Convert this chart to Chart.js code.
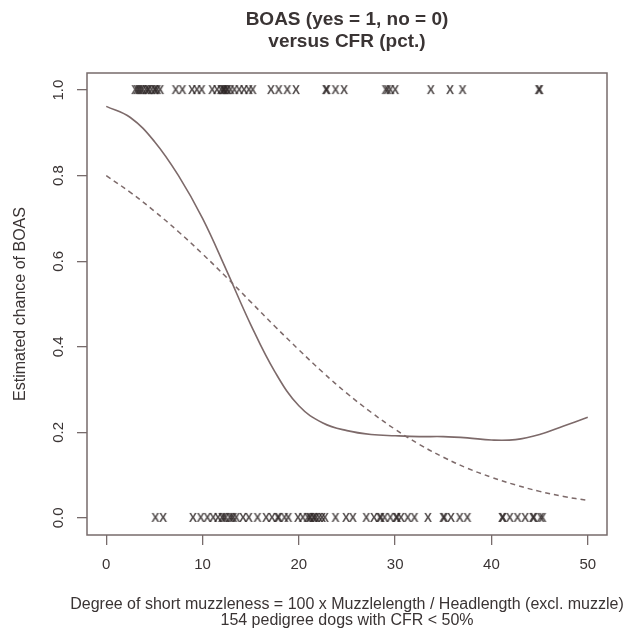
<!DOCTYPE html>
<html>
<head>
<meta charset="utf-8">
<script src="https://cdn.jsdelivr.net/npm/chart.js@4"></script>
<style>
  body { margin: 0; background: #fff; }
  canvas { display: block; }
</style>
</head>
<body>
<canvas id="boasChart" width="625" height="630"></canvas>
<script>
// fitted curves, every 2.5 pct CFR
const curveX = [0, 2.5, 5, 7.5, 10, 12.5, 15, 17.5, 20, 22.5, 25, 27.5, 30, 32.5, 35, 37.5, 40, 42.5, 45, 47.5, 50];
const smoothY = [0.962, 0.936, 0.88, 0.80, 0.70, 0.578, 0.452, 0.342, 0.262, 0.222, 0.204, 0.195, 0.192, 0.19, 0.19, 0.187, 0.182, 0.183, 0.195, 0.215, 0.235];
const logisticY = [0.80, 0.761, 0.717, 0.669, 0.617, 0.562, 0.505, 0.448, 0.393, 0.340, 0.291, 0.247, 0.207, 0.172, 0.142, 0.116, 0.095, 0.077, 0.062, 0.050, 0.041];

// dogs, by CFR: BOAS yes (plotted at 1) and no (plotted at 0)
const boasYes = [3.0, 3.2, 3.4, 3.6, 3.8, 4.1, 4.3, 4.4, 4.7, 5.0, 5.1, 5.3, 5.6, 7.2, 7.9, 8.9, 9.4, 9.9,
  11.0, 11.5, 11.9, 12.1, 12.2, 12.3, 12.5, 12.6, 12.9, 13.3, 13.8, 14.3, 14.8, 15.2,
  17.1, 17.9, 18.8, 19.7, 22.8, 22.9, 23.8, 24.7, 29.0, 29.2, 29.5, 30.0, 33.7, 35.7, 37.0, 44.9, 45.0];
const boasNo = [5.1, 5.9, 9.0, 9.8, 10.5, 11.1, 11.6, 12.0, 12.2, 12.4, 12.8, 13.0, 13.2, 13.5, 14.2, 14.8, 15.7,
  16.6, 17.2, 17.8, 17.9, 18.5, 18.9, 19.9, 20.4, 20.9, 21.1, 21.2, 21.5, 21.6, 21.8, 22.1, 22.4, 22.7,
  23.8, 24.9, 25.6, 27.0, 27.8, 28.4, 28.5, 28.9, 29.5, 30.1, 30.2, 30.6, 31.3, 32.0, 33.4,
  35.0, 35.1, 35.8, 36.7, 37.5, 41.1, 41.2, 41.9, 42.7, 43.5, 44.3, 44.4, 45.1, 45.3];

const xTicks = [0, 10, 20, 30, 40, 50];
const yTicks = [0, 0.2, 0.4, 0.6, 0.8, 1];
const xTitle = ['Degree of short muzzleness = 100 x Muzzlelength / Headlength (excl. muzzle)', '154 pedigree dogs with CFR < 50%'];

const axisColor = '#776b6b';
const lineColor = '#7d6a6a';
const textColor = '#3a3434';
const fontFamily = '"Liberation Sans", Arial, Helvetica, sans-serif';

// R style "x" plotting character
function makeCross() {
    const c = document.createElement('canvas');
    c.width = 12;
    c.height = 12;
    const g = c.getContext('2d');
    g.fillStyle = 'rgba(45, 38, 38, 0.82)';
    g.font = 'bold 12px ' + fontFamily;
    g.textAlign = 'center';
    g.textBaseline = 'middle';
    g.fillText('X', 6, 6.5);
    return c;
}
const cross = makeCross();

// frame round the plot region, plus the x label
// (the scale title would squeeze the long line to the plot width)
const boxPlugin = {
    id: 'box',
    afterDraw(chart) {
        const { ctx, chartArea: a } = chart;
        ctx.save();
        ctx.strokeStyle = axisColor;
        ctx.lineWidth = 1.5;
        ctx.strokeRect(a.left, a.top, a.right - a.left, a.bottom - a.top);

        ctx.fillStyle = textColor;
        ctx.font = '16px ' + fontFamily;
        ctx.textAlign = 'center';
        ctx.textBaseline = 'middle';
        const cx = (a.left + a.right) / 2;
        xTitle.forEach((line, i) => ctx.fillText(line, cx, a.bottom + 70 + i * 16));
        ctx.restore();
    }
};

const ctx = document.getElementById('boasChart').getContext('2d');
new Chart(ctx, {
    type: 'scatter',
    data: {
        datasets: [
            {
                data: curveX.map((x, i) => ({ x: x, y: smoothY[i] })),
                showLine: true,
                borderColor: lineColor,
                borderWidth: 1.6,
                pointRadius: 0,
                tension: 0.4
            },
            {
                data: curveX.map((x, i) => ({ x: x, y: logisticY[i] })),
                showLine: true,
                borderColor: lineColor,
                borderWidth: 1.5,
                borderDash: [5, 4],
                pointRadius: 0,
                tension: 0.4
            },
            {
                data: boasYes.map(x => ({ x: x, y: 1 })),
                pointStyle: cross
            },
            {
                data: boasNo.map(x => ({ x: x, y: 0 })),
                pointStyle: cross
            }
        ]
    },
    options: {
        responsive: false,
        animation: false,
        layout: { padding: { left: 0, right: 18, top: 0, bottom: 0 } },
        plugins: {
            legend: { display: false },
            tooltip: { enabled: false },
            title: {
                display: true,
                fullSize: false,
                text: ['BOAS (yes = 1, no = 0)', 'versus CFR (pct.)'],
                color: textColor,
                font: { family: fontFamily, size: 19, weight: 'bold', lineHeight: '22px' },
                padding: { top: 9, bottom: 20 }
            }
        },
        scales: {
            x: {
                type: 'linear',
                min: -2,
                max: 52,
                afterBuildTicks: s => { s.ticks = xTicks.map(v => ({ value: v })); },
                afterFit: s => { s.height = 95; },
                border: { display: false },
                grid: { drawOnChartArea: false, tickLength: 10, color: axisColor, lineWidth: 1.3 },
                ticks: { padding: 11, color: textColor, font: { family: fontFamily, size: 15 } }
            },
            y: {
                min: -0.04,
                max: 1.04,
                afterBuildTicks: s => { s.ticks = yTicks.map(v => ({ value: v })); },
                afterFit: s => { s.width = 87; },
                border: { display: false },
                grid: { drawOnChartArea: false, tickLength: 10, color: axisColor, lineWidth: 1.3 },
                ticks: {
                    minRotation: 90,
                    maxRotation: 90,
                    crossAlign: 'center',
                    padding: 8,
                    color: textColor,
                    font: { family: fontFamily, size: 15 },
                    callback: v => v.toFixed(1)
                },
                title: {
                    display: true,
                    text: 'Estimated chance of BOAS',
                    color: textColor,
                    font: { family: fontFamily, size: 16 },
                    padding: { top: 11, bottom: 0 }
                }
            }
        }
    },
    plugins: [boxPlugin]
});
</script>
</body>
</html>
